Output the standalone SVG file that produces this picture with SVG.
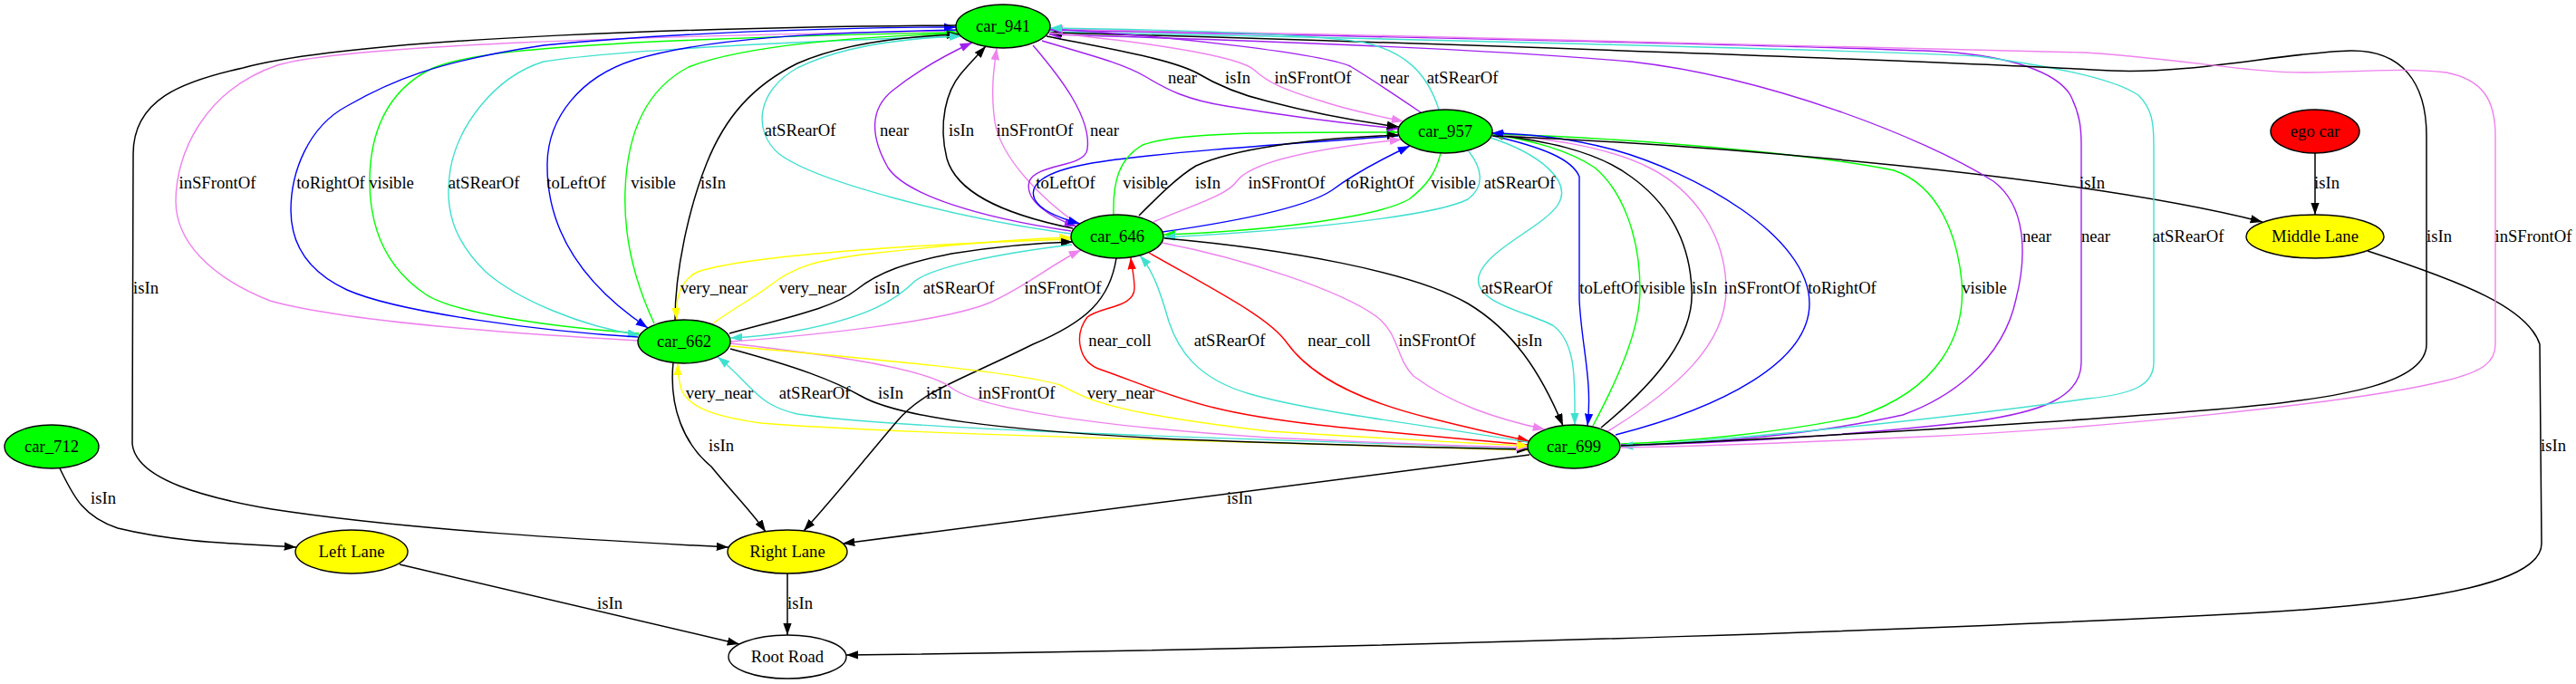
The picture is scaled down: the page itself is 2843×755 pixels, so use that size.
<svg xmlns="http://www.w3.org/2000/svg" width="2843" height="755" viewBox="0 0 2843 755">
<style>
.e{fill:none;stroke-width:1.4}
.k{stroke:#000;stroke-width:1.5}
.p{stroke:#a020f0}
.v{stroke:#ee82ee}
.t{stroke:#40e0d0}
.b{stroke:#0000ff}
.g{stroke:#00ff00}
.y{stroke:#ffff00}
.r{stroke:#ff0000}
text{font-family:"Liberation Serif","Times New Roman",serif;font-size:18.67px;fill:#000;text-anchor:middle}
ellipse{stroke:#000;stroke-width:1.4}
.car{fill:#00ff00}
.lane{fill:#ffff00}
</style>
<defs>
<marker id="ak" markerUnits="userSpaceOnUse" markerWidth="15" markerHeight="11" refX="13.3" refY="4.7" orient="auto"><path d="M0,0L13.3,4.7L0,9.4z" fill="#000"/></marker>
<marker id="ap" markerUnits="userSpaceOnUse" markerWidth="15" markerHeight="11" refX="13.3" refY="4.7" orient="auto"><path d="M0,0L13.3,4.7L0,9.4z" fill="#a020f0"/></marker>
<marker id="av" markerUnits="userSpaceOnUse" markerWidth="15" markerHeight="11" refX="13.3" refY="4.7" orient="auto"><path d="M0,0L13.3,4.7L0,9.4z" fill="#ee82ee"/></marker>
<marker id="at" markerUnits="userSpaceOnUse" markerWidth="15" markerHeight="11" refX="13.3" refY="4.7" orient="auto"><path d="M0,0L13.3,4.7L0,9.4z" fill="#40e0d0"/></marker>
<marker id="ab" markerUnits="userSpaceOnUse" markerWidth="15" markerHeight="11" refX="13.3" refY="4.7" orient="auto"><path d="M0,0L13.3,4.7L0,9.4z" fill="#0000ff"/></marker>
<marker id="ag" markerUnits="userSpaceOnUse" markerWidth="15" markerHeight="11" refX="13.3" refY="4.7" orient="auto"><path d="M0,0L13.3,4.7L0,9.4z" fill="#00ff00"/></marker>
<marker id="ay" markerUnits="userSpaceOnUse" markerWidth="15" markerHeight="11" refX="13.3" refY="4.7" orient="auto"><path d="M0,0L13.3,4.7L0,9.4z" fill="#ffff00"/></marker>
<marker id="ar" markerUnits="userSpaceOnUse" markerWidth="15" markerHeight="11" refX="13.3" refY="4.7" orient="auto"><path d="M0,0L13.3,4.7L0,9.4z" fill="#ff0000"/></marker>
</defs>
<rect width="2843" height="755" fill="#fff"/>
<g id="connectors">
<path class="e v" marker-end="url(#av)" d="M704,376 C560,368 380,355 298,332 C230,305 194,265 194,222 C194,170 225,100 306,72 C380,50 700,40 1056,34"/>
<path class="e g" marker-end="url(#ag)" d="M705,368 C600,360 500,345 470,325 C425,295 408,250 408,200 C408,150 425,100 478,75 C520,58 600,53 700,47 C850,40 980,37 1057,36"/>
<path class="e t" marker-end="url(#at)" d="M1058,40 C900,45 680,55 600,68 C545,85 505,140 497,187 C490,230 500,265 536,300 C570,330 640,360 706,370"/>
<path class="e g" marker-end="url(#ag)" d="M722,357 C700,310 688,260 690,210 C692,150 710,100 760,74 C820,50 950,40 1057,37"/>
<path class="e k" marker-end="url(#ak)" d="M745,353 C745,300 760,230 780,180 C800,130 830,95 880,70 C930,48 1000,40 1058,38"/>
<path class="e b" marker-end="url(#ab)" d="M1056,33 C900,36 780,42 700,66 C640,85 605,130 604,180 C603,240 630,305 715,362"/>
<path class="e b" marker-end="url(#ab)" d="M704,372 C600,366 440,345 383,320 C340,300 321,270 321,232 C321,190 340,140 383,117 C430,90 480,68 600,50 C750,35 950,30 1055,30"/>
<path class="e t" marker-end="url(#at)" d="M1182,258 C1050,240 900,200 860,170 C830,145 835,100 880,75 C930,50 1000,42 1061,40"/>
<path class="e p" marker-end="url(#ap)" d="M1182,255 C1080,240 1000,215 980,185 C960,150 960,120 985,100 C1010,80 1045,60 1073,47"/>
<path class="e k" marker-end="url(#ak)" d="M1184,252 C1100,235 1055,210 1045,175 C1035,135 1045,100 1060,82 C1070,70 1080,60 1088,51"/>
<path class="e v" marker-end="url(#av)" d="M1190,248 C1150,220 1105,175 1098,135 C1093,100 1097,75 1100,53"/>
<path class="e p" marker-end="url(#ap)" d="M1140,50 C1170,85 1205,130 1200,165 C1197,185 1145,180 1136,200 C1130,222 1160,240 1188,250"/>
<path class="e b" marker-end="url(#ab)" d="M1543,150 C1400,160 1260,170 1200,181 C1150,190 1135,205 1142,220 C1148,232 1170,241 1192,247"/>
<path class="e g" marker-end="url(#ag)" d="M1229,237 C1228,200 1235,175 1261,160 C1300,145 1420,146 1543,146"/>
<path class="e k" marker-end="url(#ak)" d="M1257,238 C1280,215 1300,195 1320,183 C1360,165 1440,153 1544,149"/>
<path class="e v" marker-end="url(#av)" d="M1273,245 C1320,225 1355,215 1365,200 C1380,180 1440,165 1547,154"/>
<path class="e b" marker-end="url(#ab)" d="M1283,256 C1360,245 1440,230 1470,210 C1490,195 1520,178 1556,161"/>
<path class="e g" marker-end="url(#ag)" d="M1590,169 C1585,190 1575,205 1555,220 C1520,240 1400,255 1284,259"/>
<path class="e t" marker-end="url(#at)" d="M1621,167 C1635,185 1640,205 1620,220 C1580,240 1420,255 1284,262"/>
<path class="e t" marker-end="url(#at)" d="M1645,152 C1700,170 1735,200 1720,225 C1705,250 1640,275 1632,305 C1625,335 1690,345 1715,360 C1740,380 1738,420 1738,469"/>
<path class="e b" marker-end="url(#ab)" d="M1648,150 C1700,162 1735,175 1743,195 L1743,330 C1745,380 1758,420 1752,470"/>
<path class="e g" marker-end="url(#ag)" d="M1758,470 C1790,410 1810,360 1810,320 C1810,260 1790,210 1760,185 C1730,165 1690,155 1646,148"/>
<path class="e k" marker-end="url(#ak)" d="M1767,472 C1830,420 1870,370 1867,320 C1865,260 1835,220 1800,195 C1760,165 1700,155 1646,148"/>
<path class="e v" marker-end="url(#av)" d="M1773,477 C1850,430 1905,380 1905,320 C1905,260 1870,210 1820,185 C1770,160 1700,152 1646,148"/>
<path class="e g" marker-end="url(#ag)" d="M1789,490 C1850,488 1950,480 2050,460 C2140,430 2170,370 2165,310 C2160,260 2140,205 2090,188 C2000,170 1800,152 1646,148"/>
<path class="e b" marker-end="url(#ab)" d="M1783,480 C1900,450 1997,400 1997,335 C1997,260 1870,190 1780,165 C1730,152 1690,148 1646,147"/>
<path class="e r" marker-end="url(#ar)" d="M1686,491 C1550,478 1420,470 1340,450 C1290,438 1250,420 1215,408 C1190,400 1185,370 1200,350 C1215,338 1252,340 1252,318 C1252,305 1249,295 1248,284"/>
<path class="e r" marker-end="url(#ar)" d="M1268,279 C1340,320 1400,350 1420,378 C1450,420 1510,445 1580,462 C1620,472 1655,480 1688,487"/>
<path class="e t" marker-end="url(#at)" d="M1686,488 C1580,470 1450,455 1380,435 C1320,418 1300,385 1290,355 C1280,320 1272,298 1258,282"/>
<path class="e v" marker-end="url(#av)" d="M1283,268 C1370,285 1480,320 1520,350 C1545,370 1540,395 1560,415 C1600,445 1650,462 1705,474"/>
<path class="e k" marker-end="url(#ak)" d="M1285,263 C1420,275 1560,300 1620,335 C1670,365 1700,410 1725,470"/>
<path class="e y" marker-end="url(#ay)" d="M1182,264 C1050,268 830,280 770,300 C750,310 745,330 747,353"/>
<path class="e y" marker-end="url(#ay)" d="M787,357 C810,340 830,330 850,315 C875,295 900,287 960,280 C1050,270 1120,264 1182,262"/>
<path class="e k" marker-end="url(#ak)" d="M805,368 C870,350 920,340 945,320 C970,300 1000,290 1050,280 C1100,272 1150,268 1184,267"/>
<path class="e t" marker-end="url(#at)" d="M1183,270 C1100,280 1030,295 1010,310 C990,330 960,350 880,365 C850,370 830,372 806,373"/>
<path class="e v" marker-end="url(#av)" d="M807,377 C900,370 1040,355 1090,335 C1130,318 1160,292 1193,276"/>
<path class="e y" marker-end="url(#ay)" d="M1686,497 C1400,488 1000,480 840,467 C790,460 760,450 752,430 C749,420 748,410 748,401"/>
<path class="e t" marker-end="url(#at)" d="M1686,495 C1400,485 1000,475 880,457 C850,450 840,440 825,425 C815,415 805,404 792,394"/>
<path class="e k" marker-end="url(#ak)" d="M806,385 C880,405 920,420 950,437 C990,460 1100,475 1300,485 C1500,492 1620,495 1687,496"/>
<path class="e k" marker-end="url(#ak)" d="M1232,285 C1225,330 1200,355 1140,380 C1060,420 1020,430 990,465 C960,500 920,550 887,586"/>
<path class="e v" marker-end="url(#av)" d="M806,379 C900,390 1020,405 1050,428 C1080,450 1200,470 1400,483 C1550,490 1630,493 1686,494"/>
<path class="e y" marker-end="url(#ay)" d="M806,382 C950,395 1120,410 1170,425 C1200,440 1220,455 1400,476 C1550,485 1630,490 1687,492"/>
<path class="e k" marker-end="url(#ak)" d="M743,400 C738,450 755,490 785,515 C805,540 830,565 845,587"/>
<path class="e k" marker-end="url(#ak)" d="M1688,502 L930,600"/>
<path class="e k" marker-end="url(#ak)" d="M66,517 C80,545 90,570 130,583 C200,600 270,600 327,604"/>
<path class="e k" marker-end="url(#ak)" d="M441,623 L816,711"/>
<path class="e k" marker-end="url(#ak)" d="M869,633 L869,701"/>
<path class="e k" marker-end="url(#ak)" d="M2555,169 L2555,237"/>
<path class="e k" marker-end="url(#ak)" d="M2613,277 C2720,312 2790,340 2803,380 L2805,600 C2805,640 2700,665 2479,677 C2200,692 1600,715 934,723"/>
<path class="e k" marker-end="url(#ak)" d="M1055,28 C800,30 400,40 268,75 C200,90 147,110 147,170 L146,490 C150,530 230,550 300,562 C450,585 650,596 804,604"/>
<path class="e k" marker-end="url(#ak)" d="M1647,150 C1900,160 2300,195 2497,245"/>
<path class="e p" marker-end="url(#ap)" d="M1789,492 C1880,490 2000,480 2100,458 C2150,440 2210,400 2225,330 C2235,290 2240,230 2200,200 C2120,150 1950,85 1800,68 C1650,55 1400,45 1158,38"/>
<path class="e p" marker-end="url(#ap)" d="M1789,491 C1900,490 2050,480 2180,465 C2250,455 2297,440 2297,400 L2297,160 C2297,140 2295,125 2285,105 C2270,80 2220,62 2144,57 C2000,50 1500,40 1159,33"/>
<path class="e t" marker-end="url(#at)" d="M1159,35 C1500,42 2050,55 2183,62 C2260,73 2330,85 2360,105 C2375,120 2377,135 2377,160 L2377,400 C2377,425 2355,435 2304,440 C2200,455 2000,478 1789,493"/>
<path class="e k" marker-end="url(#ak)" d="M1789,492 C1950,485 2250,468 2432,453 C2600,440 2678,420 2678,380 L2678,150 C2678,90 2650,55 2594,56 C2520,58 2420,82 2330,78 C2150,68 1600,48 1159,36"/>
<path class="e v" marker-end="url(#av)" d="M1789,494 C1850,493 1950,490 2100,483 C2300,475 2600,445 2700,420 C2740,410 2754,400 2754,380 L2754,150 C2754,110 2740,88 2700,80 C2650,74 2600,80 2542,80 C2480,80 2400,64 2300,58 C2150,52 1600,40 1160,32"/>
<path class="e p" marker-end="url(#ap)" d="M1150,45 C1200,60 1240,70 1265,85 C1290,100 1310,110 1353,117 C1420,128 1480,136 1544,142"/>
<path class="e k" marker-end="url(#ak)" d="M1155,40 C1230,55 1290,65 1320,80 C1345,95 1370,105 1400,112 C1450,125 1490,133 1544,140"/>
<path class="e v" marker-end="url(#av)" d="M1157,36 C1300,50 1370,65 1384,77 C1400,92 1420,100 1460,112 C1490,122 1520,128 1549,134"/>
<path class="e p" marker-end="url(#ap)" d="M1568,124 C1540,105 1510,85 1490,73 C1460,60 1300,40 1159,32"/>
<path class="e t" marker-end="url(#at)" d="M1588,121 C1575,80 1550,57 1506,47 C1450,38 1300,33 1159,31"/>
</g>
<g id="labels">
<text x="240" y="208">inSFrontOf</text>
<text x="365" y="208">toRightOf</text>
<text x="432" y="208">visible</text>
<text x="534" y="208">atSRearOf</text>
<text x="636" y="208">toLeftOf</text>
<text x="721" y="208">visible</text>
<text x="787" y="208">isIn</text>
<text x="1176" y="208">toLeftOf</text>
<text x="1264" y="208">visible</text>
<text x="1333" y="208">isIn</text>
<text x="1420" y="208">inSFrontOf</text>
<text x="1523" y="208">toRightOf</text>
<text x="1604" y="208">visible</text>
<text x="1677" y="208">atSRearOf</text>
<text x="2309" y="208">isIn</text>
<text x="2568" y="208">isIn</text>
<text x="883" y="150">atSRearOf</text>
<text x="987" y="150">near</text>
<text x="1061" y="150">isIn</text>
<text x="1142" y="150">inSFrontOf</text>
<text x="1219" y="150">near</text>
<text x="1305" y="92">near</text>
<text x="1366" y="92">isIn</text>
<text x="1449" y="92">inSFrontOf</text>
<text x="1539" y="92">near</text>
<text x="1614" y="92">atSRearOf</text>
<text x="2248" y="267">near</text>
<text x="2313" y="267">near</text>
<text x="2415" y="267">atSRearOf</text>
<text x="2692" y="267">isIn</text>
<text x="2796" y="267">inSFrontOf</text>
<text x="161" y="324">isIn</text>
<text x="788" y="324">very_near</text>
<text x="897" y="324">very_near</text>
<text x="979" y="324">isIn</text>
<text x="1058" y="324">atSRearOf</text>
<text x="1173" y="324">inSFrontOf</text>
<text x="1674" y="324">atSRearOf</text>
<text x="1776" y="324">toLeftOf</text>
<text x="1835" y="324">visible</text>
<text x="1881" y="324">isIn</text>
<text x="1945" y="324">inSFrontOf</text>
<text x="2033" y="324">toRightOf</text>
<text x="2190" y="324">visible</text>
<text x="1236" y="382">near_coll</text>
<text x="1357" y="382">atSRearOf</text>
<text x="1478" y="382">near_coll</text>
<text x="1586" y="382">inSFrontOf</text>
<text x="1688" y="382">isIn</text>
<text x="794" y="440">very_near</text>
<text x="899" y="440">atSRearOf</text>
<text x="983" y="440">isIn</text>
<text x="1036" y="440">isIn</text>
<text x="1122" y="440">inSFrontOf</text>
<text x="1237" y="440">very_near</text>
<text x="796" y="498">isIn</text>
<text x="2818" y="498">isIn</text>
<text x="114" y="556">isIn</text>
<text x="1368" y="556">isIn</text>
<text x="673" y="672">isIn</text>
<text x="883" y="672">isIn</text>
</g>
<g id="car_941"><ellipse class="car" cx="1107" cy="29" rx="52" ry="24"/><text x="1107" y="35">car_941</text></g>
<g id="car_957"><ellipse class="car" cx="1595" cy="145" rx="52" ry="24"/><text x="1595" y="151">car_957</text></g>
<g id="car_646"><ellipse class="car" cx="1233" cy="261" rx="51" ry="24"/><text x="1233" y="267">car_646</text></g>
<g id="car_662"><ellipse class="car" cx="755" cy="377" rx="51" ry="24"/><text x="755" y="383">car_662</text></g>
<g id="car_699"><ellipse class="car" cx="1737" cy="493" rx="51" ry="24"/><text x="1737" y="499">car_699</text></g>
<g id="car_712"><ellipse class="car" cx="57" cy="493" rx="52" ry="24"/><text x="57" y="499">car_712</text></g>
<g id="ego_car"><ellipse cx="2555" cy="145" rx="49" ry="24" fill="#ff0000"/><text x="2555" y="151">ego car</text></g>
<g id="middle_lane"><ellipse class="lane" cx="2555" cy="261" rx="76" ry="24"/><text x="2555" y="267">Middle Lane</text></g>
<g id="left_lane"><ellipse class="lane" cx="388" cy="609" rx="62" ry="24"/><text x="388" y="615">Left Lane</text></g>
<g id="right_lane"><ellipse class="lane" cx="869" cy="609" rx="66" ry="24"/><text x="869" y="615">Right Lane</text></g>
<g id="root_road"><ellipse cx="869" cy="725" rx="65" ry="24" fill="#fff"/><text x="869" y="731">Root Road</text></g>
</svg>
